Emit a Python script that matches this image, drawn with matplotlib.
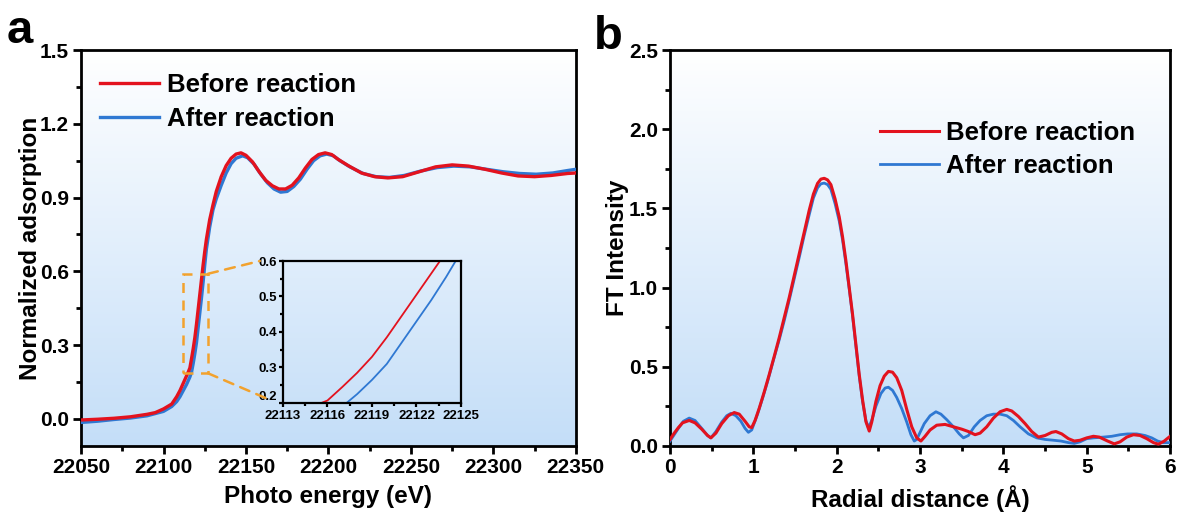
import numpy as np
import matplotlib
matplotlib.use('Agg')
import matplotlib.pyplot as plt
from matplotlib.patches import Rectangle, ConnectionPatch
from matplotlib.ticker import MultipleLocator

plt.rcParams['font.family'] = ['Liberation Sans', 'DejaVu Sans']
plt.rcParams['font.weight'] = 'bold'

# --- XANES (panel a) ---
e_before = [22050, 22060, 22070, 22080, 22090, 22095, 22100, 22105, 22108, 22110,
            22112, 22114, 22115, 22116, 22117, 22118, 22119, 22120, 22121, 22122,
            22123, 22124, 22125, 22126, 22128, 22130, 22132, 22135, 22138, 22141,
            22144, 22147, 22150, 22154, 22158, 22162, 22166, 22170, 22174, 22178,
            22182, 22186, 22190, 22194, 22198, 22202, 22206, 22212, 22220, 22228,
            22236, 22245, 22255, 22265, 22275, 22285, 22295, 22305, 22315, 22325,
            22335, 22345, 22350]
mu_before = [-0.005, -0.002, 0.002, 0.008, 0.018, 0.025, 0.04, 0.06, 0.09, 0.115,
             0.145, 0.175, 0.19, 0.207, 0.245, 0.285, 0.33, 0.385, 0.445, 0.505,
             0.565, 0.625, 0.68, 0.73, 0.81, 0.87, 0.925, 0.985, 1.03, 1.06,
             1.077, 1.082, 1.072, 1.045, 1.005, 0.97, 0.948, 0.935, 0.935, 0.95,
             0.98, 1.02, 1.055, 1.075, 1.082, 1.075, 1.055, 1.03, 1.0, 0.985,
             0.98, 0.985, 1.005, 1.025, 1.033, 1.028, 1.015, 1.0, 0.988, 0.985,
             0.99, 0.998, 1.0]

e_after = [22050, 22060, 22070, 22080, 22090, 22100, 22105, 22108, 22110, 22112,
           22114, 22116, 22117, 22118, 22119, 22120, 22121, 22122, 22123, 22124,
           22125, 22126, 22128, 22130, 22132, 22135, 22138, 22141, 22144, 22148,
           22151, 22155, 22159, 22163, 22167, 22171, 22175, 22179, 22183, 22187,
           22191, 22195, 22199, 22203, 22207, 22213, 22221, 22229, 22237, 22246,
           22256, 22266, 22276, 22286, 22296, 22306, 22316, 22326, 22336, 22345,
           22350]
mu_after = [-0.015, -0.01, -0.003, 0.003, 0.012, 0.03, 0.05, 0.07, 0.09, 0.115,
            0.14, 0.17, 0.19, 0.225, 0.265, 0.31, 0.37, 0.43, 0.49, 0.555,
            0.625, 0.69, 0.78, 0.85, 0.895, 0.95, 1.0, 1.038, 1.06, 1.07,
            1.062, 1.035, 0.995, 0.96, 0.935, 0.922, 0.925, 0.945, 0.975, 1.015,
            1.05, 1.07, 1.077, 1.07, 1.05, 1.025, 0.998, 0.985, 0.982, 0.99,
            1.008, 1.022, 1.028, 1.025, 1.015, 1.005, 0.998, 0.995, 1.0, 1.01,
            1.015]

# --- FT-EXAFS (panel b) ---
r_before = [0.0, 0.05, 0.1, 0.15, 0.23, 0.3, 0.38, 0.45, 0.49, 0.55,
            0.62, 0.7, 0.77, 0.83, 0.9, 0.95, 0.98, 1.02, 1.07, 1.13,
            1.19, 1.25, 1.31, 1.37, 1.43, 1.49, 1.55, 1.61, 1.67, 1.72,
            1.77, 1.81, 1.85, 1.89, 1.93, 1.98, 2.03, 2.07, 2.11, 2.15,
            2.19, 2.23, 2.27, 2.31, 2.35, 2.39, 2.42, 2.47, 2.52, 2.57,
            2.62, 2.67, 2.72, 2.78, 2.84, 2.9, 2.96, 3.01, 3.06, 3.12,
            3.2, 3.3, 3.4, 3.5, 3.58, 3.66, 3.72, 3.8, 3.88, 3.96,
            4.04, 4.1, 4.18, 4.26, 4.34, 4.42, 4.5, 4.58, 4.63, 4.7,
            4.78, 4.85, 4.92, 5.0, 5.08, 5.15, 5.25, 5.33, 5.4, 5.48,
            5.56, 5.64, 5.72, 5.8, 5.86, 5.93, 6.0]
ft_before = [0.04, 0.08, 0.115, 0.145, 0.16, 0.145, 0.105, 0.065, 0.05, 0.08,
             0.14, 0.19, 0.21, 0.2, 0.155, 0.12, 0.115, 0.16, 0.237, 0.34,
             0.45, 0.565, 0.683, 0.81, 0.937, 1.075, 1.213, 1.35, 1.489, 1.59,
             1.658, 1.685, 1.69, 1.68, 1.65, 1.56, 1.446, 1.32, 1.17, 1.0,
             0.83, 0.64, 0.45, 0.29, 0.153, 0.093, 0.15, 0.28, 0.38, 0.44,
             0.47, 0.465, 0.43, 0.35, 0.23, 0.12, 0.05, 0.03, 0.06, 0.1,
             0.13, 0.135, 0.12, 0.105, 0.09, 0.07, 0.08, 0.12, 0.175, 0.215,
             0.23, 0.22, 0.185, 0.14, 0.09, 0.055, 0.065, 0.085, 0.09, 0.075,
             0.045, 0.03, 0.035, 0.05, 0.06, 0.055, 0.03, 0.012, 0.025, 0.055,
             0.07, 0.065, 0.045, 0.02, 0.01, 0.03, 0.06]

r_after = [0.0, 0.05, 0.1, 0.16, 0.23, 0.3, 0.38, 0.45, 0.49, 0.55,
           0.62, 0.68, 0.73, 0.79, 0.85, 0.9, 0.94, 0.98, 1.05, 1.11,
           1.17, 1.24, 1.31, 1.37, 1.43, 1.49, 1.55, 1.61, 1.67, 1.72,
           1.77, 1.81, 1.85, 1.89, 1.93, 1.98, 2.03, 2.07, 2.11, 2.15,
           2.19, 2.23, 2.27, 2.31, 2.35, 2.38, 2.42, 2.47, 2.53, 2.58,
           2.62, 2.67, 2.72, 2.78, 2.84, 2.89, 2.93, 2.96, 3.0, 3.05,
           3.12, 3.19, 3.25, 3.32, 3.4, 3.47, 3.52, 3.58, 3.65, 3.72,
           3.8, 3.88, 3.96, 4.04, 4.12, 4.2, 4.3, 4.4, 4.5, 4.6,
           4.69, 4.78, 4.85, 4.92, 5.0, 5.08, 5.2, 5.3, 5.4, 5.49,
           5.6, 5.7, 5.78, 5.85, 5.92, 6.0]
ft_after = [0.03, 0.07, 0.11, 0.155, 0.175, 0.16, 0.11, 0.065, 0.05, 0.09,
            0.15, 0.19, 0.205, 0.19, 0.155, 0.11, 0.085, 0.1, 0.2, 0.3,
            0.405, 0.54, 0.67, 0.79, 0.92, 1.055, 1.19, 1.33, 1.46, 1.565,
            1.63, 1.655, 1.66, 1.65, 1.62, 1.53, 1.42, 1.3, 1.15, 0.99,
            0.82, 0.63, 0.44, 0.28, 0.16, 0.115, 0.16, 0.25, 0.33, 0.365,
            0.37, 0.35, 0.305, 0.235, 0.15, 0.07, 0.03, 0.04, 0.085, 0.14,
            0.19, 0.215, 0.2, 0.165, 0.12, 0.075, 0.05, 0.065, 0.12, 0.16,
            0.19, 0.2, 0.2, 0.19, 0.16, 0.12, 0.075, 0.05, 0.04, 0.035,
            0.03, 0.02, 0.015, 0.025, 0.045, 0.05, 0.055, 0.06, 0.07, 0.075,
            0.075, 0.065, 0.05, 0.03, 0.02, 0.02]

labels = ['Before reaction', 'After reaction']
RED = '#e3121e'
BLUE = '#2f78d2'
ORANGE = '#f2a22e'


def gradient_bg(ax):
  # white at top fading to light blue at bottom
  top = np.array([1.0, 1.0, 1.0])
  bot = np.array([196, 222, 248]) / 255.
  t = np.linspace(0, 1, 256)[:, None]
  img = (top * (1 - t) + bot * t)[:, None, :]
  ax.imshow(img, extent=[0, 1, 0, 1], transform=ax.transAxes, aspect='auto',
            zorder=0, interpolation='bilinear')


def style_axes(ax, lw=2.0, size=15):
  for s in ax.spines.values():
    s.set_linewidth(lw)
  ax.tick_params(which='major', direction='out', length=6, width=lw, pad=2.5,
                 labelsize=size, top=False, right=False)
  ax.tick_params(which='minor', direction='out', length=3.5, width=lw,
                 top=False, right=False)
  for t in ax.get_xticklabels() + ax.get_yticklabels():
    t.set_fontweight('bold')


fig = plt.figure(figsize=(11.78, 5.22), dpi=100)
ax1 = fig.add_axes([0.0688, 0.146, 0.420, 0.758])
ax2 = fig.add_axes([0.5688, 0.146, 0.4245, 0.758])

leg_kw = dict(frameon=False, handlelength=2.3, handletextpad=0.28,
              labelspacing=0.38, prop={'size': 18.5, 'weight': 'bold'})

# panel a
gradient_bg(ax1)
ax1.plot(e_after, mu_after, color=BLUE, lw=2.4, label=labels[1], zorder=3)
ax1.plot(e_before, mu_before, color=RED, lw=2.4, label=labels[0], zorder=4)
ax1.set_xlim(22050, 22350)
ax1.set_ylim(-0.11, 1.5)
ax1.xaxis.set_major_locator(MultipleLocator(50))
ax1.xaxis.set_minor_locator(MultipleLocator(25))
ax1.yaxis.set_minor_locator(MultipleLocator(0.15))
ax1.set_yticks([0.0, 0.3, 0.6, 0.9, 1.2, 1.5])
ax1.set_yticklabels(['0.0', '0.3', '0.6', '0.9', '1.2', '1.5'])
style_axes(ax1)
ax1.set_xlabel('Photo energy (eV)', fontsize=17.5, fontweight='bold', labelpad=6)
ax1.set_ylabel('Normalized adsorption', fontsize=17.5, fontweight='bold', labelpad=-1)
h, l = ax1.get_legend_handles_labels()
ax1.legend(h[::-1], l[::-1], loc='upper left', bbox_to_anchor=(-0.008, 1.0), **leg_kw)

# zoom box + connectors
ax1.add_patch(Rectangle((22112, 0.185), 15, 0.405, fill=False, ec=ORANGE,
                        ls=(0, (4, 3)), lw=1.8, zorder=5))

axin = fig.add_axes([0.2402, 0.228, 0.1511, 0.272])
axin.patch.set_alpha(0)
axin.plot(e_after, mu_after, color=BLUE, lw=1.3)
axin.plot(e_before, mu_before, color=RED, lw=1.3)
axin.set_xlim(22113, 22125)
axin.set_ylim(0.2, 0.6)
axin.set_xticks([22113, 22116, 22119, 22122, 22125])
axin.xaxis.set_minor_locator(MultipleLocator(1.5))
axin.set_yticks([0.2, 0.3, 0.4, 0.5, 0.6])
axin.yaxis.set_minor_locator(MultipleLocator(0.05))
style_axes(axin, lw=1.6, size=9.5)
axin.tick_params(which='major', length=3, pad=1)
axin.tick_params(axis='x', which='major', pad=2)
axin.tick_params(which='minor', length=2)
# lift the lowest y label a little so it clears the x labels
axin.get_yticklabels()[0].set_va('bottom')

for xa, ya, xb, yb in [(22127, 0.59, -0.13, 1.0), (22127, 0.185, -0.07, 0.02)]:
  cp = ConnectionPatch(xyA=(xa, ya), coordsA=ax1.transData,
                       xyB=(xb, yb), coordsB=axin.transAxes,
                       color=ORANGE, ls=(0, (4, 3)), lw=1.8, zorder=5)
  fig.add_artist(cp)

# panel b
gradient_bg(ax2)
ax2.plot(r_after, ft_after, color=BLUE, lw=2.0, label=labels[1], zorder=3)
ax2.plot(r_before, ft_before, color=RED, lw=2.2, label=labels[0], zorder=4)
ax2.set_xlim(0, 6)
ax2.set_ylim(0, 2.5)
ax2.xaxis.set_major_locator(MultipleLocator(1))
ax2.xaxis.set_minor_locator(MultipleLocator(0.5))
ax2.yaxis.set_major_locator(MultipleLocator(0.5))
ax2.yaxis.set_minor_locator(MultipleLocator(0.25))
style_axes(ax2)
ax2.set_xlabel('Radial distance (Å)', fontsize=17.5, fontweight='bold', labelpad=6)
ax2.set_ylabel('FT Intensity', fontsize=17.5, fontweight='bold', labelpad=0)
h, l = ax2.get_legend_handles_labels()
ax2.legend(h[::-1], l[::-1], loc='upper left', bbox_to_anchor=(0.374, 0.88), **leg_kw)

fig.text(0.006, 0.94, 'a', fontsize=34, fontweight='bold', va='center')
fig.text(0.504, 0.93, 'b', fontsize=34, fontweight='bold', va='center')

fig.savefig('out.png', dpi=100)
